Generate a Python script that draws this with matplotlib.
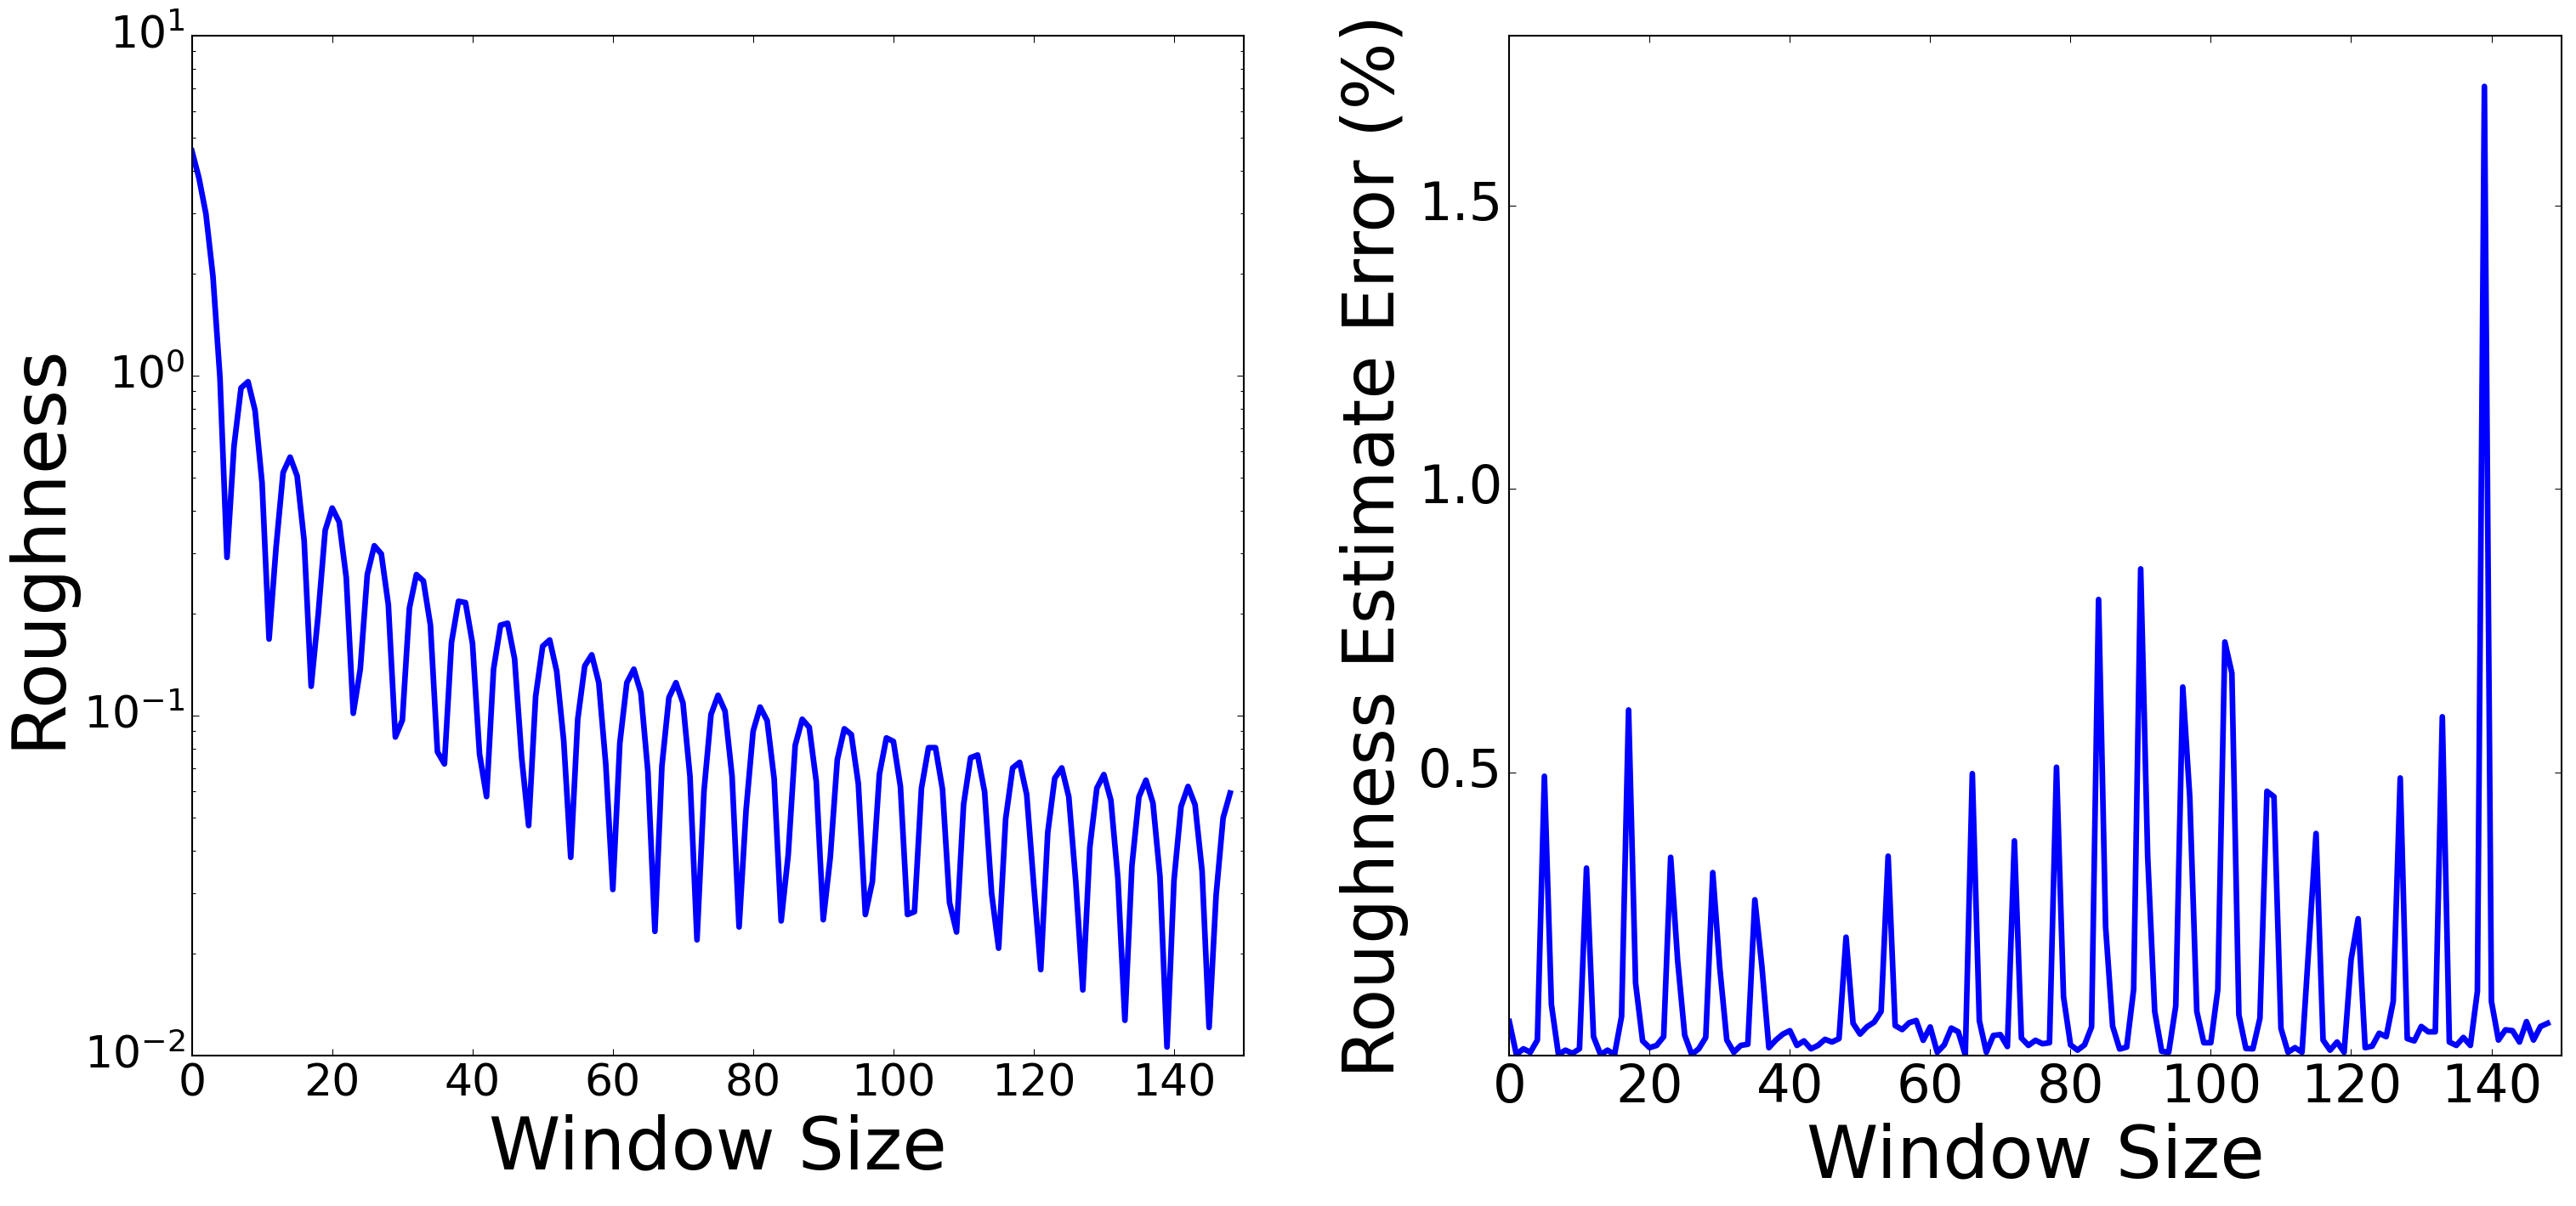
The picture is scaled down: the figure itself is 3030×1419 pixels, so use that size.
import numpy as np
import matplotlib
matplotlib.use("Agg")
import matplotlib.pyplot as plt

plt.style.use('classic')

# roughness vs window size (log scale)
roughness = [4.58, 3.82, 2.99, 1.96, 0.986, 0.292, 0.62, 0.92, 0.96, 0.79,
             0.484, 0.168, 0.313, 0.519, 0.576, 0.507, 0.327, 0.122, 0.198, 0.351,
             0.408, 0.371, 0.255, 0.1016, 0.137, 0.26, 0.316, 0.299, 0.212, 0.0865,
             0.097, 0.207, 0.26, 0.249, 0.1846, 0.0783, 0.0721, 0.164, 0.217, 0.215,
             0.163, 0.0772, 0.0578, 0.137, 0.1846, 0.187, 0.147, 0.0755, 0.0475, 0.114,
             0.16, 0.167, 0.135, 0.0844, 0.0383, 0.0976, 0.140, 0.151, 0.125, 0.0718,
             0.0308, 0.083, 0.125, 0.137, 0.1167, 0.0685, 0.0232, 0.0711, 0.113, 0.125,
             0.109, 0.0663, 0.0219, 0.0601, 0.1008, 0.1148, 0.1031, 0.0663, 0.0239, 0.0528,
             0.090, 0.106, 0.0967, 0.0652, 0.0249, 0.0389, 0.0818, 0.0976, 0.0924, 0.0641,
             0.0251, 0.0383, 0.0742, 0.0915, 0.088, 0.063, 0.026, 0.0325, 0.0672, 0.086,
             0.084, 0.0619, 0.026, 0.0265, 0.0612, 0.0805, 0.0805, 0.0607, 0.0282, 0.0231,
             0.0547, 0.0752, 0.0766, 0.0597, 0.030, 0.0207, 0.0497, 0.0702, 0.0729, 0.0586,
             0.0319, 0.0179, 0.0453, 0.0655, 0.0702, 0.0577, 0.0324, 0.0156, 0.041, 0.0612,
             0.0671, 0.0564, 0.0332, 0.0127, 0.0362, 0.0577, 0.0646, 0.0553, 0.0336, 0.0106,
             0.0328, 0.054, 0.0619, 0.0547, 0.0349, 0.0121, 0.0296, 0.050, 0.0592]

# estimate error in percent
error_pct = [0.06, 0.002, 0.012, 0.006, 0.0275, 0.493, 0.09, 0.002, 0.0096, 0.004,
             0.012, 0.331, 0.0335, 0.002, 0.0096, 0.002, 0.069, 0.61, 0.128, 0.026,
             0.014, 0.018, 0.0335, 0.35, 0.167, 0.036, 0.002, 0.012, 0.032, 0.323,
             0.155, 0.0275, 0.006, 0.018, 0.020, 0.275, 0.158, 0.014, 0.0275, 0.038,
             0.044, 0.018, 0.026, 0.012, 0.018, 0.0287, 0.024, 0.03, 0.209, 0.057,
             0.038, 0.051, 0.059, 0.078, 0.352, 0.053, 0.046, 0.058, 0.062, 0.027,
             0.0506, 0.006, 0.019, 0.0486, 0.042, 0.001, 0.4976, 0.0617, 0.006, 0.0356,
             0.037, 0.016, 0.379, 0.031, 0.018, 0.027, 0.021, 0.0227, 0.509, 0.104,
             0.019, 0.0096, 0.019, 0.0506, 0.805, 0.2277, 0.052, 0.0116, 0.015, 0.117,
             0.859, 0.351, 0.078, 0.0076, 0.006, 0.0876, 0.6505, 0.4555, 0.078, 0.0227,
             0.0227, 0.117, 0.73, 0.675, 0.072, 0.0125, 0.012, 0.066, 0.4665, 0.457,
             0.048, 0.006, 0.014, 0.006, 0.2, 0.392, 0.0275, 0.0096, 0.024, 0.006,
             0.17, 0.2416, 0.014, 0.0167, 0.0395, 0.0335, 0.0957, 0.490, 0.03, 0.026,
             0.0514, 0.042, 0.042, 0.598, 0.024, 0.018, 0.032, 0.018, 0.1136, 1.7105,
             0.0957, 0.0275, 0.0455, 0.044, 0.024, 0.06, 0.0275, 0.0514, 0.057]

window = np.arange(len(roughness))
xticks = [0, 20, 40, 60, 80, 100, 120, 140]

fig, (ax1, ax2) = plt.subplots(1, 2, figsize=(20.2, 9.46), dpi=150)
fig.subplots_adjust(left=0.0745, right=0.9944, bottom=0.1247, top=0.9704, wspace=0.252)

ax1.plot(window, roughness, color='b', lw=3.2)
ax1.set_yscale('log')
ax1.set_xlim(0, 150)
ax1.set_ylim(1e-2, 1e1)
ax1.set_xticks(xticks)
ax1.set_xlabel('Window Size', fontsize=41)
ax1.set_ylabel('Roughness', fontsize=42)
ax1.tick_params(labelsize=25)

ax2.plot(window, error_pct, color='b', lw=3.2)
ax2.set_xlim(0, 150)
ax2.set_ylim(0, 1.8)
ax2.set_xticks(xticks)
ax2.set_yticks([0.5, 1.0, 1.5])
ax2.set_xlabel('Window Size', fontsize=41)
ax2.set_ylabel('Roughness Estimate Error (%)', fontsize=40)
ax2.tick_params(labelsize=30)

plt.savefig('out.png', dpi=150, facecolor='white')
